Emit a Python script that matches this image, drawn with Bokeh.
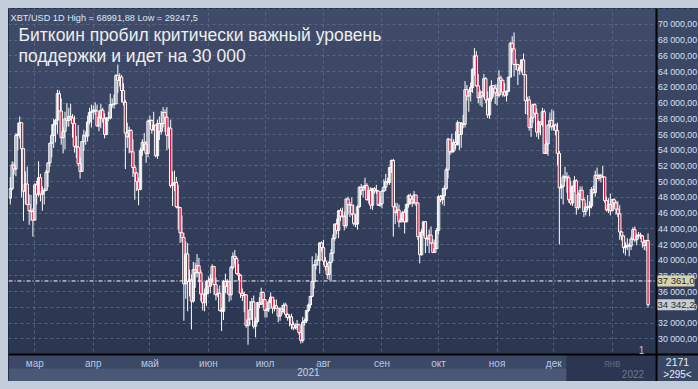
import json
import numpy as np
import pandas as pd
from bokeh.plotting import figure
from bokeh.models import (Range1d, LinearAxis, FixedTicker, CustomJSTickFormatter,
                          Label, BoxAnnotation, ColumnDataSource, Grid)
from bokeh.embed import file_html
from bokeh.resources import INLINE

# ---------------- data (thousands USD, daily candles) ----------------
first_day = "2021-02-16"
first_open = 47.9
closes = [
    49.1, 52.1, 51.6, 55.9, 56.0, 57.5, 54.2, 48.8, 49.7, 47.1, 46.3, 46.2, 45.1,
    49.6, 48.4, 50.5, 48.4, 48.8, 48.9, 51.2, 52.4, 54.9, 55.9, 57.3, 57.8, 61.2, 59.0, 55.6, 56.4, 58.0, 57.8, 58.3, 58.1, 57.4, 54.5, 54.4, 52.3, 51.3, 55.1, 55.9, 55.8, 57.6, 58.8, 58.9,
    59.1, 59.0, 57.1, 58.2, 59.1, 58.0, 56.0, 58.1, 58.1, 59.8, 59.8, 59.9, 63.5, 62.9, 63.3, 61.6, 60.1, 56.2, 55.7, 56.5, 53.8, 51.8, 51.1, 50.0, 49.0, 54.0, 55.0, 54.8, 53.6, 57.7,
    57.8, 56.6, 57.2, 53.3, 57.4, 56.4, 57.4, 58.8, 58.2, 55.9, 56.8, 49.5, 49.7, 49.9, 46.8, 46.7, 43.5, 42.9, 37.0, 40.8, 37.3, 37.5, 34.8, 38.8, 38.4, 39.3, 38.4, 35.7, 34.6, 35.7, 37.3,
    36.7, 37.6, 39.2, 36.9, 35.6, 35.8, 33.6, 33.5, 37.3, 36.7, 37.3, 35.6, 39.1, 40.5, 40.2, 38.3, 38.1, 35.8, 35.5, 35.6, 31.7, 32.5, 33.7, 34.7, 31.6, 32.2, 34.6, 34.4, 35.9, 35.0,
    33.6, 33.8, 34.7, 35.3, 33.9, 34.2, 33.9, 32.9, 33.8, 33.5, 34.3, 33.1, 32.7, 32.8, 31.8, 31.4, 31.5, 31.8, 30.8, 29.8, 32.1, 32.3, 33.6, 34.3, 35.4, 37.3, 39.4, 40.0, 40.0, 42.2, 41.6,
    39.9, 39.2, 38.2, 39.7, 40.9, 42.8, 44.6, 43.8, 46.3, 45.6, 45.6, 44.4, 47.8, 47.1, 47.0, 45.9, 44.7, 44.6, 46.8, 49.3, 48.9, 49.3, 49.5, 47.7, 48.9, 47.0, 49.1, 48.9, 48.8, 47.0, 47.2,
    48.8, 49.3, 50.0, 49.9, 51.8, 52.7, 46.8, 46.1, 46.4, 44.9, 45.2, 46.1, 44.9, 47.1, 48.2, 47.8, 47.3, 48.3, 47.3, 43.0, 40.7, 43.6, 44.9, 42.8, 42.7, 43.2, 42.2, 41.0, 41.5, 43.8,
    48.1, 47.7, 48.2, 49.1, 51.5, 55.4, 53.8, 53.9, 55.0, 54.7, 57.5, 56.0, 57.4, 57.3, 61.7, 60.9, 61.5, 62.0, 64.3, 66.0, 62.2, 60.7, 61.4, 60.9, 63.1, 60.4, 58.5, 60.6, 62.2, 61.9, 61.3,
    61.0, 63.2, 62.9, 61.4, 61.0, 61.5, 63.3, 67.6, 66.9, 64.9, 64.9, 64.2, 64.5, 65.5, 63.6, 60.3, 60.4, 56.9, 58.1, 59.8, 58.7, 56.3, 57.6, 57.3, 58.9, 53.6, 54.8, 57.2, 57.8, 57.0,
    57.2, 56.5, 53.6, 49.2, 49.4, 50.6, 50.6, 50.5, 47.7, 47.3, 49.4, 50.1, 46.7, 48.4, 48.9, 47.7, 46.2, 46.8, 46.7, 46.9, 49.0, 48.6, 50.8, 50.4, 50.8, 50.6, 50.6, 47.6, 46.4, 47.1, 46.3,
    47.7, 47.3, 46.5, 45.9, 43.6, 43.1, 41.6, 41.8, 41.9, 41.8, 42.7, 43.9, 42.6, 43.1, 43.2, 43.1, 42.3, 41.9, 42.5, 34.3422,
]
highs = [
    50.6, 52.6, 52.5, 56.2, 57.5, 58.3, 57.5, 54.2, 51.3, 51.9, 48.4, 48.3, 46.6,
    49.8, 50.1, 52.6, 51.0, 49.4, 49.2, 51.5, 52.4, 54.9, 57.3, 58.0, 58.0, 61.7, 61.6, 60.6, 56.9, 58.9, 60.0, 59.4, 59.9, 58.6, 58.4, 55.8, 57.2, 53.1, 55.1, 56.6, 56.4, 58.4, 59.4, 59.8,
    59.7, 60.1, 59.8, 58.5, 59.9, 59.4, 58.7, 58.2, 58.9, 61.2, 60.6, 61.1, 63.7, 64.9, 63.8, 63.6, 62.5, 60.4, 57.5, 57.0, 56.7, 55.4, 52.1, 51.2, 50.5, 54.3, 55.4, 56.2, 55.2, 57.9,
    58.4, 57.9, 58.9, 57.2, 57.9, 58.3, 59.0, 59.5, 59.2, 59.5, 57.0, 57.9, 51.3, 51.4, 50.6, 49.6, 46.6, 45.7, 43.5, 42.4, 42.2, 38.8, 38.2, 39.8, 39.7, 40.8, 40.3, 38.8, 37.2, 36.4, 37.5,
    37.9, 38.2, 39.5, 39.2, 37.8, 36.4, 36.8, 34.0, 37.5, 38.3, 37.6, 37.4, 39.3, 41.0, 41.3, 40.5, 39.5, 38.2, 36.4, 36.0, 35.7, 33.3, 34.8, 35.2, 35.5, 32.7, 34.7, 35.3, 36.5, 36.0,
    35.0, 33.9, 35.0, 35.9, 35.3, 35.0, 35.0, 33.9, 34.0, 34.3, 34.6, 34.6, 33.3, 33.1, 33.2, 32.2, 32.0, 32.4, 31.9, 31.0, 32.8, 32.6, 33.6, 34.5, 35.4, 40.5, 39.5, 40.9, 40.6, 42.3, 42.4,
    42.6, 40.4, 39.7, 39.9, 41.4, 43.3, 44.7, 45.3, 46.4, 46.6, 46.7, 46.2, 47.8, 48.1, 47.4, 48.0, 47.1, 45.9, 47.0, 49.4, 49.7, 49.5, 50.5, 49.8, 49.3, 49.3, 49.2, 49.3, 49.6, 48.9, 48.2,
    49.0, 50.3, 51.0, 50.5, 51.9, 52.8, 52.9, 47.3, 47.3, 47.1, 45.9, 46.3, 46.5, 47.2, 48.4, 48.5, 48.2, 48.8, 48.3, 47.3, 43.6, 44.0, 45.0, 45.0, 42.9, 43.9, 44.3, 42.7, 42.6, 44.1,
    48.3, 48.3, 49.2, 49.5, 51.8, 55.6, 55.3, 56.1, 55.4, 56.4, 57.8, 57.6, 57.6, 58.5, 62.8, 62.3, 61.7, 62.6, 64.4, 67.0, 66.6, 63.7, 61.7, 61.5, 63.7, 63.3, 61.5, 62.1, 62.9, 62.3, 62.4,
    62.4, 64.2, 63.5, 63.0, 62.5, 61.6, 63.3, 67.8, 68.5, 68.99188, 65.6, 65.0, 64.9, 65.5, 66.3, 63.6, 60.8, 60.9, 58.4, 59.9, 60.0, 59.3, 57.8, 57.6, 59.4, 59.2, 55.3, 57.3, 58.8, 59.2,
    59.0, 57.4, 57.5, 53.9, 49.7, 50.9, 51.9, 51.2, 50.8, 50.1, 49.5, 50.7, 50.3, 48.6, 49.4, 49.4, 48.0, 47.3, 48.3, 47.5, 49.3, 49.5, 51.4, 51.8, 51.0, 51.0, 52.0, 50.6, 48.1, 47.9, 48.5,
    47.8, 47.9, 47.6, 47.5, 47.0, 43.7, 43.1, 42.3, 42.8, 42.2, 43.0, 44.2, 44.3, 43.4, 43.6, 43.5, 43.2, 42.6, 42.6, 43.4,
]
lows = [
    47.1, 48.9, 50.9, 50.7, 54.0, 55.5, 48.0, 45.0, 47.1, 47.0, 44.5, 45.0, 43.0,
    45.1, 47.1, 48.1, 47.5, 46.3, 47.1, 48.9, 49.3, 51.9, 53.1, 54.3, 55.0, 56.1, 59.0, 54.7, 53.6, 54.1, 57.0, 57.0, 57.8, 55.6, 53.7, 53.0, 52.0, 50.4, 51.3, 53.9, 54.7, 55.1, 57.3, 56.9,
    57.9, 58.5, 57.0, 56.4, 56.8, 57.5, 55.5, 55.9, 57.7, 57.9, 59.4, 59.3, 59.9, 61.3, 62.1, 60.1, 59.7, 51.6, 54.3, 53.6, 53.7, 50.6, 47.7, 48.8, 47.0, 48.9, 53.3, 53.9, 52.4, 53.1,
    57.1, 56.1, 56.5, 53.1, 52.9, 55.3, 56.0, 56.9, 56.3, 54.0, 54.2, 49.2, 46.9, 48.8, 46.6, 43.9, 42.2, 42.3, 32.3, 35.1, 33.5, 35.4, 31.2, 34.6, 36.5, 37.8, 37.2, 34.8, 33.6, 33.5, 34.2,
    35.7, 35.8, 37.2, 35.6, 34.9, 35.3, 33.5, 31.0, 32.4, 35.8, 35.7, 34.7, 34.9, 38.8, 39.5, 38.2, 37.4, 35.2, 34.8, 33.4, 31.4, 29.2475, 31.7, 32.4, 31.3, 30.2, 32.0, 33.9, 34.3, 34.0,
    32.7, 32.7, 33.4, 34.5, 33.2, 33.5, 33.8, 32.1, 32.3, 33.1, 33.3, 32.7, 32.3, 31.6, 31.2, 31.1, 31.2, 31.1, 30.5, 29.4, 29.5, 31.7, 32.0, 33.4, 33.9, 35.3, 36.4, 38.8, 39.3, 38.3, 41.1,
    39.4, 38.7, 37.6, 37.5, 37.3, 39.9, 42.5, 43.3, 42.8, 45.0, 45.4, 43.8, 44.1, 45.8, 45.5, 45.7, 44.4, 44.2, 43.9, 46.7, 48.3, 48.0, 49.1, 47.6, 47.2, 46.5, 46.4, 48.5, 48.4, 46.9, 46.8,
    46.6, 48.7, 48.8, 49.6, 49.6, 51.1, 43.0, 44.6, 45.7, 44.2, 44.8, 44.8, 43.4, 44.8, 46.7, 47.1, 46.8, 47.1, 46.9, 42.6, 39.6, 40.6, 43.1, 40.9, 41.8, 40.9, 42.1, 40.9, 41.0, 41.4,
    43.3, 47.4, 47.1, 46.9, 49.0, 50.4, 53.4, 53.6, 53.7, 54.1, 54.6, 54.0, 54.3, 56.8, 56.9, 60.3, 58.9, 60.2, 61.3, 63.5, 62.1, 60.0, 59.7, 59.5, 60.6, 60.0, 58.1, 58.0, 60.2, 60.8, 59.9,
    59.7, 60.7, 61.0, 60.8, 60.8, 60.2, 61.4, 63.3, 66.5, 63.4, 64.2, 62.3, 63.6, 63.9, 63.6, 58.6, 58.5, 56.5, 55.7, 57.5, 58.5, 55.7, 55.4, 55.9, 57.0, 53.6, 53.7, 53.3, 56.8, 56.5,
    56.5, 55.9, 52.1, 42.0, 47.8, 47.1, 50.0, 48.6, 47.3, 47.0, 46.9, 48.7, 45.8, 46.4, 46.6, 47.6, 45.5, 45.7, 46.4, 45.6, 46.6, 48.5, 48.1, 50.4, 50.1, 49.9, 50.5, 47.3, 46.2, 46.0, 45.7,
    46.3, 46.7, 45.8, 45.5, 42.6, 42.5, 40.9, 40.6, 41.3, 40.5, 41.3, 42.5, 42.3, 41.9, 42.7, 42.7, 41.6, 41.3, 41.2, 34.0,
]
price_scale = 1000.0

price_ticks = list(range(30000, 70001, 2000))
month_ticks = ["2021-03-01", "2021-04-01", "2021-05-01", "2021-06-01", "2021-07-01",
               "2021-08-01", "2021-09-01", "2021-10-01", "2021-11-01", "2021-12-01"]
month_names = ["янв", "фев", "мар", "апр", "май", "июн", "июл", "авг", "сен", "окт", "ноя", "дек"]
dim_month = ("янв", "2022-01-01")
year_ticks = ["2021-07-24"]
dim_year = ("2022", "2022-01-12")
bid_price = 37361.0
bid_text = "37 361,0"
last_price = 34342.2
last_text = "34 342,2"
header = "XBT/USD 1D High = 68991,88 Low = 29247,5"
title1 = "Биткоин пробил критически важный уровень"
title2 = "поддержки и идет на 30 000"
corner_top = "2171"
corner_bottom = ">295<"

# ---------------- build ----------------
DAY = 86400000.0

def ms(s):
    return pd.Timestamp(s).value / 1e6

n = len(closes)
dates = pd.date_range(first_day, periods=n, freq="D")
x = np.array([d.value / 1e6 for d in dates])
c = np.array(closes) * price_scale
o = np.concatenate([[first_open], closes[:-1]]) * price_scale
h = np.maximum(np.array(highs) * price_scale, np.maximum(o, c))
l = np.minimum(np.array(lows) * price_scale, np.minimum(o, c))
down = c < o

src = ColumnDataSource(dict(
    x=x, high=h, low=l,
    top=np.maximum(o, c), bottom=np.minimum(o, c),
    fill=np.where(down, "#e0123d", "#ffffff"),
    alpha=np.where(down, 1.0, 0.0),
))

# pixel <-> data mapping (page pixels; the frame fills the whole visible page area)
KX = 647 / 342.89          # px per day
KY = 346 / 44031.0         # px per USD
xs = ms("2021-03-01") - 13.94 * DAY
y_top = 72036.0

def x_of(px):
    return xs + (px - 8) / KX * DAY

def y_of(py):
    return y_top - (py - 8) / KY

FRAME_W, FRAME_H = 690, 373

p = figure(frame_width=FRAME_W, frame_height=FRAME_H,
           x_range=Range1d(xs, x_of(698)), y_range=Range1d(y_of(381), y_top),
           x_axis_type=None, y_axis_type=None,
           output_backend="svg", toolbar_location=None,
           min_border_left=0, min_border_top=0, min_border_right=0, min_border_bottom=0,
           background_fill_color="#36425e", border_fill_color="#c3cddb",
           outline_line_color="#1b2236")

def gradient(top_hex, bot_hex, ng=96):
    tc = np.array([int(top_hex[i:i + 2], 16) for i in (1, 3, 5)], dtype=float)
    bc = np.array([int(bot_hex[i:i + 2], 16) for i in (1, 3, 5)], dtype=float)
    t = np.linspace(0, 1, ng)[:, None]
    cols = bc + (tc - bc) * t
    img = np.zeros((ng, 1), dtype=np.uint32)
    view = img.view(dtype=np.uint8).reshape((ng, 1, 4))
    view[:, 0, 0] = cols[:, 0]
    view[:, 0, 1] = cols[:, 1]
    view[:, 0, 2] = cols[:, 2]
    view[:, 0, 3] = 255
    return img

plot_right = x_of(655)
plot_bottom = y_of(354)

bg = p.image_rgba(image=[gradient("#404c6a", "#2b3651")], x=xs, y=plot_bottom,
                  dw=plot_right - xs, dh=y_top - plot_bottom)
bg.level = "image"

grid_kw = dict(grid_line_color="#5a6886", grid_line_dash="3 3", grid_line_width=1, grid_line_alpha=0.9)
p.add_layout(Grid(dimension=1, ticker=FixedTicker(ticks=price_ticks + [72000]), **grid_kw))
p.add_layout(Grid(dimension=0, ticker=FixedTicker(ticks=[ms(d) for d in month_ticks] + [ms(dim_month[1])]), **grid_kw))

# right price panel background and bottom time rows (cover the grid outside the plot area)
p.image_rgba(image=[gradient("#3d4a68", "#323d59")], x=plot_right, y=plot_bottom,
             dw=x_of(698) - plot_right, dh=y_top - plot_bottom)
row_split = x_of(566)
for kw, col in [
    (dict(right=row_split, top=plot_bottom, bottom=y_of(368)), "#3c4966"),
    (dict(right=row_split, top=y_of(368)), "#4a5876"),
    (dict(left=row_split, right=plot_right, top=plot_bottom), "#2c3651"),
    (dict(left=plot_right, top=plot_bottom), "#3a4764"),
]:
    p.add_layout(BoxAnnotation(fill_color=col, fill_alpha=1.0, line_color=None, level="glyph", **kw))

# candles
p.segment(x0="x", y0="low", x1="x", y1="high", source=src, line_color="#ffffff", line_width=1)
p.vbar(x="x", width=1.25 * DAY, top="top", bottom="bottom", source=src,
       fill_color="fill", fill_alpha="alpha", line_color="#ffffff", line_width=1)

# bid line across the plot area
p.segment(x0=[xs], y0=[bid_price], x1=[plot_right], y1=[bid_price],
          line_color="#ffffff", line_dash="4 2 1 2", line_width=1)

# right price axis (drawn at the plot area's right edge)
price_js = """
const s = Math.round(tick).toString();
let t = s; const parts = [];
while (t.length > 3) { parts.unshift(t.slice(-3)); t = t.slice(0, -3); }
parts.unshift(t);
return parts.join(' ') + ',00';
"""
yax = LinearAxis(ticker=FixedTicker(ticks=price_ticks), formatter=CustomJSTickFormatter(code=price_js),
                 fixed_location=x_of(655.5))
yax.major_label_text_font = "Liberation Sans"
yax.major_label_text_font_size = "8.8px"
yax.major_label_text_color = "#d4e1f5"
yax.major_tick_line_color = None
yax.minor_tick_line_color = None
yax.major_tick_out = 0
yax.major_tick_in = 0
yax.axis_line_color = "#000000"
yax.axis_line_width = 2
yax.major_label_standoff = 2
p.add_layout(yax, "right")

# bottom time axes (drawn inside the visible page area)
month_js = "const names = " + json.dumps(month_names) + "; return names[new Date(tick).getUTCMonth()];"
xax = LinearAxis(ticker=FixedTicker(ticks=[ms(d) for d in month_ticks]),
                 formatter=CustomJSTickFormatter(code=month_js), fixed_location=y_of(354))
xax.major_label_text_font = "Liberation Sans"
xax.major_label_text_font_size = "10px"
xax.major_label_text_color = "#b6c8e6"
xax.major_tick_line_color = None
xax.minor_tick_line_color = None
xax.major_tick_out = 0
xax.major_tick_in = 0
xax.axis_line_color = "#000000"
xax.axis_line_width = 2
xax.major_label_standoff = 3
p.add_layout(xax, "below")

yr = LinearAxis(ticker=FixedTicker(ticks=[ms(d) for d in year_ticks]),
                formatter=CustomJSTickFormatter(code="return new Date(tick).getUTCFullYear().toString();"),
                fixed_location=y_of(367.5))
yr.major_label_text_font = "Liberation Sans"
yr.major_label_text_font_size = "10px"
yr.major_label_text_color = "#c6d3ea"
yr.major_tick_line_color = None
yr.minor_tick_line_color = None
yr.major_tick_out = 0
yr.major_tick_in = 0
yr.axis_line_color = None
yr.major_label_standoff = 0
p.add_layout(yr, "below")

# dim labels of the future period
p.add_layout(Label(x=ms(dim_month[1]), y=y_of(362.5), text=dim_month[0], text_align="center",
                   text_baseline="middle", text_font="Liberation Sans", text_font_size="10px",
                   text_color="#5a6888"))
p.add_layout(Label(x=ms(dim_year[1]), y=y_of(373.5), text=dim_year[0], text_align="center",
                   text_baseline="middle", text_font="Liberation Sans", text_font_size="10px",
                   text_color="#6a7795"))

# corner box texts
p.add_layout(Label(x=x_of(677), y=y_of(361), text=corner_top, text_align="center", text_baseline="middle",
                   text_font="Liberation Sans", text_font_size="10.5px", text_color="#e6ecf6"))
p.add_layout(Label(x=x_of(677), y=y_of(374), text=corner_bottom, text_align="center", text_baseline="middle",
                   text_font="Liberation Sans", text_font_size="10px", text_color="#e6ecf6"))

# price tags on the right axis
p.add_layout(Label(x=x_of(657), y=bid_price, text=bid_text, text_baseline="middle",
                   text_font="Liberation Sans", text_font_size="9.5px", text_color="#2a2a2a",
                   background_fill_color="#d8d3ad", background_fill_alpha=1.0))
p.add_layout(Label(x=x_of(657), y=last_price, text=last_text, text_baseline="middle",
                   text_font="Liberation Sans", text_font_size="9.5px", text_color="#2a2a2a",
                   background_fill_color="#c9cdd4", background_fill_alpha=1.0))

# header and title
p.add_layout(Label(x=x_of(10), y=y_of(17.5), text=header, text_font="Liberation Sans",
                   text_font_size="9.2px", text_color="#dfe7f3", text_baseline="alphabetic"))
p.add_layout(Label(x=x_of(18), y=y_of(34.5), text=title1, text_font="Liberation Sans",
                   text_font_size="17.5px", text_color="#eeeeee", text_baseline="alphabetic"))
p.add_layout(Label(x=x_of(18), y=y_of(55.5), text=title2, text_font="Liberation Sans",
                   text_font_size="17.5px", text_color="#eeeeee", text_baseline="alphabetic"))
p.add_layout(Label(x=x_of(641), y=y_of(349), text="1", text_align="center", text_baseline="middle",
                   text_font="Liberation Sans", text_font_size="10px", text_color="#b8c4dc"))

page_css = ("<style>html,body{margin:0 !important;padding:0 !important;overflow:hidden !important;"
            "background:#c3cddb !important;}body{padding:8px !important;}</style>")
html = file_html(p, INLINE)
html = html.replace("</head>", page_css + "</head>", 1)
open("out.html", "w").write(html)
